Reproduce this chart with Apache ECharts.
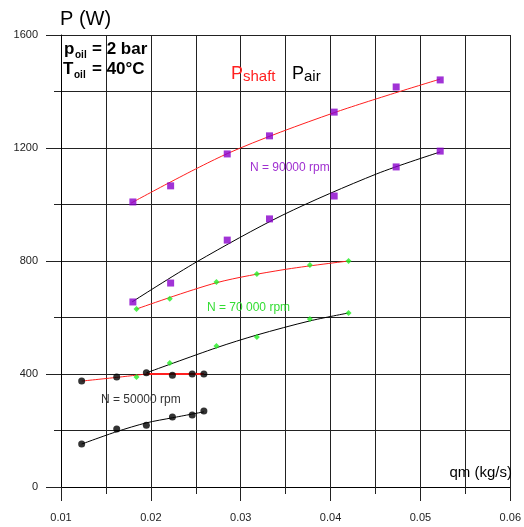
<!DOCTYPE html>
<html><head><meta charset="utf-8">
<script src="https://cdn.jsdelivr.net/npm/echarts@6/dist/echarts.min.js"></script>
<style>html,body{margin:0;padding:0;background:#fff}#c{width:524px;height:527px}</style>
</head><body><div id="c"></div>
<script>
// ---- data ----
const xTicks = [0.01, 0.02, 0.03, 0.04, 0.05, 0.06];
const yTicks = [0, 400, 800, 1200, 1600];

// N = 90000 rpm (purple squares)
const q90 = [0.0180, 0.0222, 0.0285, 0.0332, 0.0404, 0.0473, 0.0522];
const shaft90 = [1009, 1066, 1179, 1243, 1327, 1416, 1441];
const air90 = [655, 722, 874, 949, 1030, 1133, 1189];
const shaft90FitQ = [0.0178, 0.0285, 0.0404, 0.0522];
const shaft90Fit = [1005, 1180, 1325, 1444];
const air90FitQ = [0.0179, 0.0251, 0.0347, 0.0451, 0.0522];
const air90Fit = [655, 797, 963, 1108, 1186];

// N = 70000 rpm (green diamonds)
const q70 = [0.0184, 0.0221, 0.0273, 0.0318, 0.0377, 0.0420];
const shaft70 = [630, 666, 726, 754, 786, 800];
const air70 = [389, 439, 499, 531, 595, 616];
const shaft70FitQ = [0.0184, 0.0273, 0.0347, 0.0420];
const shaft70Fit = [630, 723, 769, 800];
const air70FitQ = [0.0195, 0.0273, 0.0318, 0.0377, 0.0420];
const air70Fit = [404, 493, 538, 588, 616];

// N = 50000 rpm (black dots)
const q50 = [0.0123, 0.0162, 0.0195, 0.0224, 0.0246, 0.0259];
const shaft50 = [375, 389, 404, 396, 400, 400];
const air50 = [152, 205, 219, 248, 255, 269];
const shaft50FitQ = [0.0123, 0.0162, 0.0195];
const shaft50Fit = [375, 388, 400];
const shaft50FlatQ = [0.0195, 0.0259];
const shaft50Flat = [400, 400];
const air50FitQ = [0.0123, 0.0162, 0.0195, 0.0224, 0.0259];
const air50Fit = [152, 196, 227, 245, 266];

const zip = (a, b) => a.map((v, i) => [v, b[i]]);
const RED = '#ff1f1f', PURPLE = '#8a00cc', GREEN = '#22ee22', BLACK = '#000';
const GRIDC = '#222';

function fit(q, v, color, w) {
  return { type: 'line', data: zip(q, v), smooth: 0.3, showSymbol: false, symbol: 'none',
    lineStyle: { color: color, width: w || 1 }, z: 3, silent: true };
}
function pts(q, v, color, symbol, size) {
  return { type: 'scatter', data: zip(q, v), symbol: symbol, symbolSize: size,
    itemStyle: { color: color }, z: 5, silent: true };
}

const chart = echarts.init(document.getElementById('c'));
const T = (x, y, text, font, fill, align, va) => ({ type: 'text', x: x, y: y, z: 10, silent: true,
  style: { text: text, font: font, fill: fill, align: align || 'left', verticalAlign: va || 'middle' } });

chart.setOption({
  animation: false,
  backgroundColor: '#fff',
  grid: { left: 61, right: 12, top: 35, bottom: 40 },
  xAxis: {
    type: 'value', min: xTicks[0], max: xTicks[xTicks.length - 1], interval: 0.01,
    axisLine: { show: true, onZero: false, lineStyle: { color: BLACK, width: 1 } },
    axisTick: { show: true, length: 14, lineStyle: { color: GRIDC } },
    minorTick: { show: true, splitNumber: 2, length: 7, lineStyle: { color: GRIDC } },
    splitLine: { show: true, lineStyle: { color: GRIDC, width: 1 } },
    minorSplitLine: { show: true, lineStyle: { color: GRIDC, width: 1 } },
    axisLabel: { margin: 25, fontSize: 11, fontFamily: 'Arial, Liberation Sans', color: '#222',
      formatter: v => v.toFixed(2) }
  },
  yAxis: {
    type: 'value', min: yTicks[0], max: yTicks[yTicks.length - 1], interval: 400,
    axisLine: { show: true, lineStyle: { color: BLACK, width: 1 } },
    axisTick: { show: true, length: 15, lineStyle: { color: GRIDC } },
    minorTick: { show: true, splitNumber: 2, length: 7, lineStyle: { color: GRIDC } },
    splitLine: { show: true, lineStyle: { color: GRIDC, width: 1 } },
    minorSplitLine: { show: true, lineStyle: { color: GRIDC, width: 1 } },
    axisLabel: { margin: 23, fontSize: 11, fontFamily: 'Arial, Liberation Sans', color: '#222',
      formatter: v => String(v) }
  },
  series: [
    fit(shaft90FitQ, shaft90Fit, RED),
    fit(air90FitQ, air90Fit, BLACK),
    fit(shaft70FitQ, shaft70Fit, RED),
    fit(air70FitQ, air70Fit, BLACK),
    fit(shaft50FitQ, shaft50Fit, RED),
    fit(shaft50FlatQ, shaft50Flat, RED, 2.2),
    fit(air50FitQ, air50Fit, BLACK),
    pts(q90, shaft90, PURPLE, 'rect', 7),
    pts(q90, air90, PURPLE, 'rect', 7),
    pts(q70, shaft70, GREEN, 'diamond', 6),
    pts(q70, air70, GREEN, 'diamond', 6),
    pts(q50, shaft50, BLACK, 'circle', 7),
    pts(q50, air50, BLACK, 'circle', 7)
  ],
  graphic: [
    T(60, 19, 'P (W)', '20px Arial, Liberation Sans', '#000'),
    T(512, 473, 'qm (kg/s)', '15px Arial, Liberation Sans', '#000', 'right'),
    T(64, 49, 'p', 'bold 17px Arial, Liberation Sans', '#000'),
    T(75, 55, 'oil', 'bold 10px Arial, Liberation Sans', '#000'),
    T(92, 49, '= 2 bar', 'bold 17px Arial, Liberation Sans', '#000'),
    T(63, 69, 'T', 'bold 17px Arial, Liberation Sans', '#000'),
    T(74, 75, 'oil', 'bold 10px Arial, Liberation Sans', '#000'),
    T(92, 69, '= 40°C', 'bold 17px Arial, Liberation Sans', '#000'),
    T(231, 74, 'P', '18px Arial, Liberation Sans', RED),
    T(243, 77, 'shaft', '15px Arial, Liberation Sans', RED),
    T(292, 74, 'P', '18px Arial, Liberation Sans', '#000'),
    T(304, 77, 'air', '15px Arial, Liberation Sans', '#000'),
    T(250, 168, 'N = 90000 rpm', '12px Arial, Liberation Sans', '#a030d0'),
    T(207, 308, 'N = 70 000 rpm', '12px Arial, Liberation Sans', '#33dd33'),
    T(101, 400, 'N = 50000 rpm', '12px Arial, Liberation Sans', '#333')
  ]
});
</script></body></html>
